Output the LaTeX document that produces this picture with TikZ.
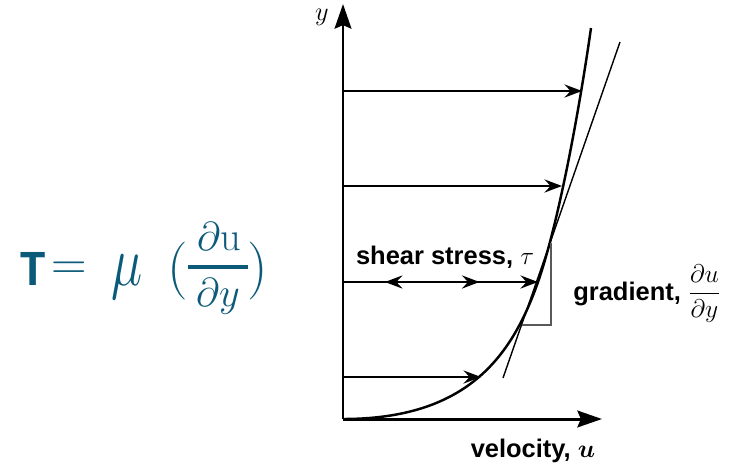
\documentclass[tikz,border=0pt]{standalone}
\usepackage{fix-cm}
\usepackage{fontspec}
\setsansfont{Liberation Sans}
\newfontfamily\eqfont{Carlito}
\usepackage{amsmath}
\usepackage{bm}
\usepackage{graphicx}
\usetikzlibrary{arrows.meta}
\usetikzlibrary{decorations.markings}
\definecolor{eqblue}{HTML}{0C5A79}
\tikzset{
  axis/.style={line width=1.7pt,-{Stealth[length=14pt,width=9.5pt,inset=2pt]}},
  flow/.style={line width=1.1pt,-{Stealth[length=10pt,width=7.5pt,inset=3.5pt]}},
  lbl/.style={font=\sffamily\bfseries\fontsize{14.5}{17}\selectfont,inner sep=0pt},
  eqn/.style={text=eqblue,inner sep=0pt,anchor=base},
}

\begin{document}
\begin{tikzpicture}[x=0.02cm,y=-0.02cm]
\useasboundingbox (0,0) rectangle (737,467);

% axes
\coordinate (O) at (343,419);
\coordinate (Y) at (343,4);
\coordinate (X) at (602,419);
\draw[axis] (O) -- (Y);
\draw[axis] (O) -- (X);
\node[font=\fontsize{15}{17}\selectfont] (ylab) at (322,17) {$y$};
\node[lbl,anchor=base] (vel) at (533,457) {velocity, $\bm{u}$};

% velocity profile
\coordinate (p1) at (538,282);
\coordinate (p2) at (591,28);
\draw[line width=1.4pt] (O) .. controls (465,419) and (511,359) .. (p1)
  .. controls (558.9,222) and (579.6,108) .. (p2);

% arrows up to the profile
\coordinate (s1) at (343,91);  \coordinate (e1) at (582,91);
\coordinate (s2) at (343,186); \coordinate (e2) at (562,186);
\coordinate (s3) at (343,282); \coordinate (e3) at (p1);
\coordinate (s4) at (343,377); \coordinate (e4) at (481,377);
\draw[flow] (s1) -- (e1);
\draw[flow] (s2) -- (e2);
\draw[flow,postaction={decorate},decoration={markings,
  mark=at position 0.215 with {\arrowreversed{Stealth[length=10pt,width=7.5pt,inset=3.5pt]}},
  mark=at position 0.70 with {\arrow{Stealth[length=10pt,width=7.5pt,inset=3.5pt]}}}] (s3) -- (e3);
\draw[flow] (s4) -- (e4);
\node[lbl,anchor=base] (shear) at (445,264) {shear stress, $\tau$};

% tangent and gradient triangle
\coordinate (t1) at (620,42);
\coordinate (t2) at (503,378);
\draw[line width=0.8pt] (t1) -- (t2);
\coordinate (g1) at (551,243);
\coordinate (g2) at (551,325);
\coordinate (g3) at (522,325);
\draw[gray!70!black,line width=0.6pt] (g1) -- (g2) -- (g3);
\node[lbl,anchor=base west] (grad) at (573,300) {gradient, $\displaystyle\frac{\partial u}{\partial y}$};

% equation
\node[eqn,font=\fontsize{29}{32}\selectfont\eqfont\bfseries] (tau) at (33.5,285) {Τ};
\node[eqn,font=\fontsize{28}{32}\selectfont] (eqs) at (69,279) {$=$};
\node[eqn,font=\fontsize{30}{34}\selectfont] (mu) at (127.5,285) {\scalebox{1}[1.35]{$\mu$}};
\node[eqn,font=\fontsize{33}{36}\selectfont] (lp) at (178,285) {$($};
\node[eqn,font=\fontsize{33}{36}\selectfont] (rp) at (258,285) {$)$};
\node[eqn,font=\fontsize{23}{26}\selectfont] (num) at (219,250) {$\partial\mathrm{u}$};
\node[eqn,font=\fontsize{23}{26}\selectfont] (den) at (218,306) {$\partial y$};
\coordinate (b1) at (188,267);
\coordinate (b2) at (248,267);
\draw[eqblue,line width=2.3pt] (b1) -- (b2);

\end{tikzpicture}
\end{document}
